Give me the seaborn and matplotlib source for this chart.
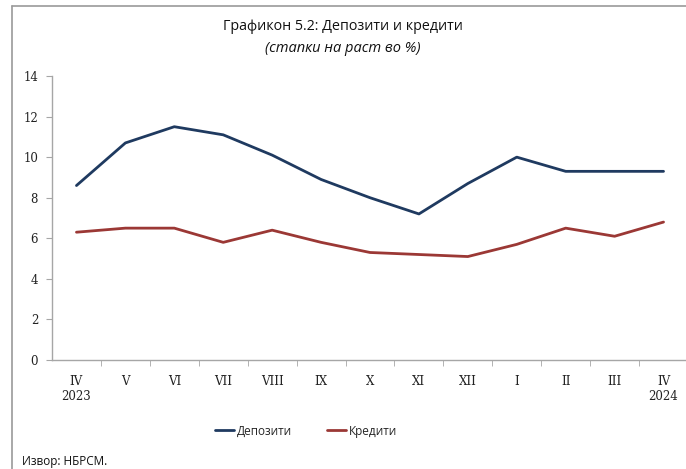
import matplotlib
matplotlib.use("Agg")
import matplotlib.pyplot as plt
import seaborn as sns
import pandas as pd
from matplotlib.lines import Line2D

# Data
months = ["IV", "V", "VI", "VII", "VIII", "IX", "X", "XI", "XII", "I", "II", "III", "IV"]
tick_labels = ["IV\n2023", "V", "VI", "VII", "VIII", "IX", "X", "XI", "XII", "I", "II", "III", "IV\n2024"]
deposits = [8.6, 10.7, 11.5, 11.1, 10.1, 8.9, 8.0, 7.2, 8.7, 10.0, 9.3, 9.3, 9.3]
credits = [6.3, 6.5, 6.5, 5.8, 6.4, 5.8, 5.3, 5.2, 5.1, 5.7, 6.5, 6.1, 6.8]
series_names = ["Депозити", "Кредити"]
colors = ["#1f3a60", "#9b3835"]

# Long form table for seaborn
idx = list(range(len(months)))
df = pd.DataFrame({
    "pos": idx + idx,
    "value": deposits + credits,
    "series": [series_names[0]] * len(idx) + [series_names[1]] * len(idx),
})

sns.set_style("white")
plt.rcParams["font.family"] = ["DejaVu Sans"]

fig = plt.figure(figsize=(6.86, 4.69), dpi=100)
ax = fig.add_axes([52 / 686, 1 - 360 / 469, (688 - 52) / 686, (360 - 76) / 469])

sns.lineplot(data=df, x="pos", y="value", hue="series", palette=colors,
             linewidth=2.0, ax=ax, legend=False)

ax.set_xlim(-0.5, len(months) - 0.5)
ax.set_ylim(0, 14)
ax.set_yticks(range(0, 15, 2))
ax.set_xticks(idx)
ax.set_xticklabels(tick_labels, family="DejaVu Serif", fontsize=8.5, color="#222222",
                   linespacing=1.25)
ax.set_xticks([i + 0.5 for i in idx[:-1]], minor=True)
for lab in ax.get_yticklabels():
    lab.set_family("DejaVu Serif")
    lab.set_fontsize(8.5)
    lab.set_color("#222222")
ax.set_xlabel("")
ax.set_ylabel("")

for s in ["top", "right"]:
    ax.spines[s].set_visible(False)
for s in ["left", "bottom"]:
    ax.spines[s].set_color("#a6a6a6")
    ax.spines[s].set_linewidth(1.0)

ax.tick_params(axis="y", left=True, length=4, color="#a6a6a6", pad=6)
ax.tick_params(axis="x", which="major", bottom=False, pad=7)
ax.tick_params(axis="x", which="minor", bottom=True, length=4, color="#a6a6a6",
               direction="out")

# Titles
fig.text(0.5, 1 - 27 / 469, "Графикон 5.2: Депозити и кредити", ha="center", va="center",
         fontsize=10.3, family="Open Sans", color="#111111")
fig.text(0.5, 1 - 48 / 469, "(стапки на раст во %)", ha="center", va="center",
         fontsize=10.5, family="Open Sans", style="italic", color="#111111")

# Legend
handles = [Line2D([], [], color=c, linewidth=2.0) for c in colors]
fig.legend(handles, series_names, loc="center", bbox_to_anchor=(306 / 686, 1 - 431 / 469),
           ncol=2, frameon=False, handlelength=1.6, handletextpad=0.2,
           columnspacing=3.0, prop={"family": "Open Sans", "size": 8.5})

fig.text(22 / 686, 1 - 461 / 469, "Извор: НБРСМ.", ha="left", va="center",
         fontsize=8.5, family="Open Sans", color="#111111")

# Outer frame (left and top edges)
fig.add_artist(Line2D([12 / 686, 12 / 686], [0, 1 - 6 / 469], transform=fig.transFigure,
                      color="#9a9a9a", linewidth=1.2))
fig.add_artist(Line2D([12 / 686, 1], [1 - 6 / 469, 1 - 6 / 469], transform=fig.transFigure,
                      color="#9a9a9a", linewidth=1.2))

fig.savefig("out.png", dpi=100)
